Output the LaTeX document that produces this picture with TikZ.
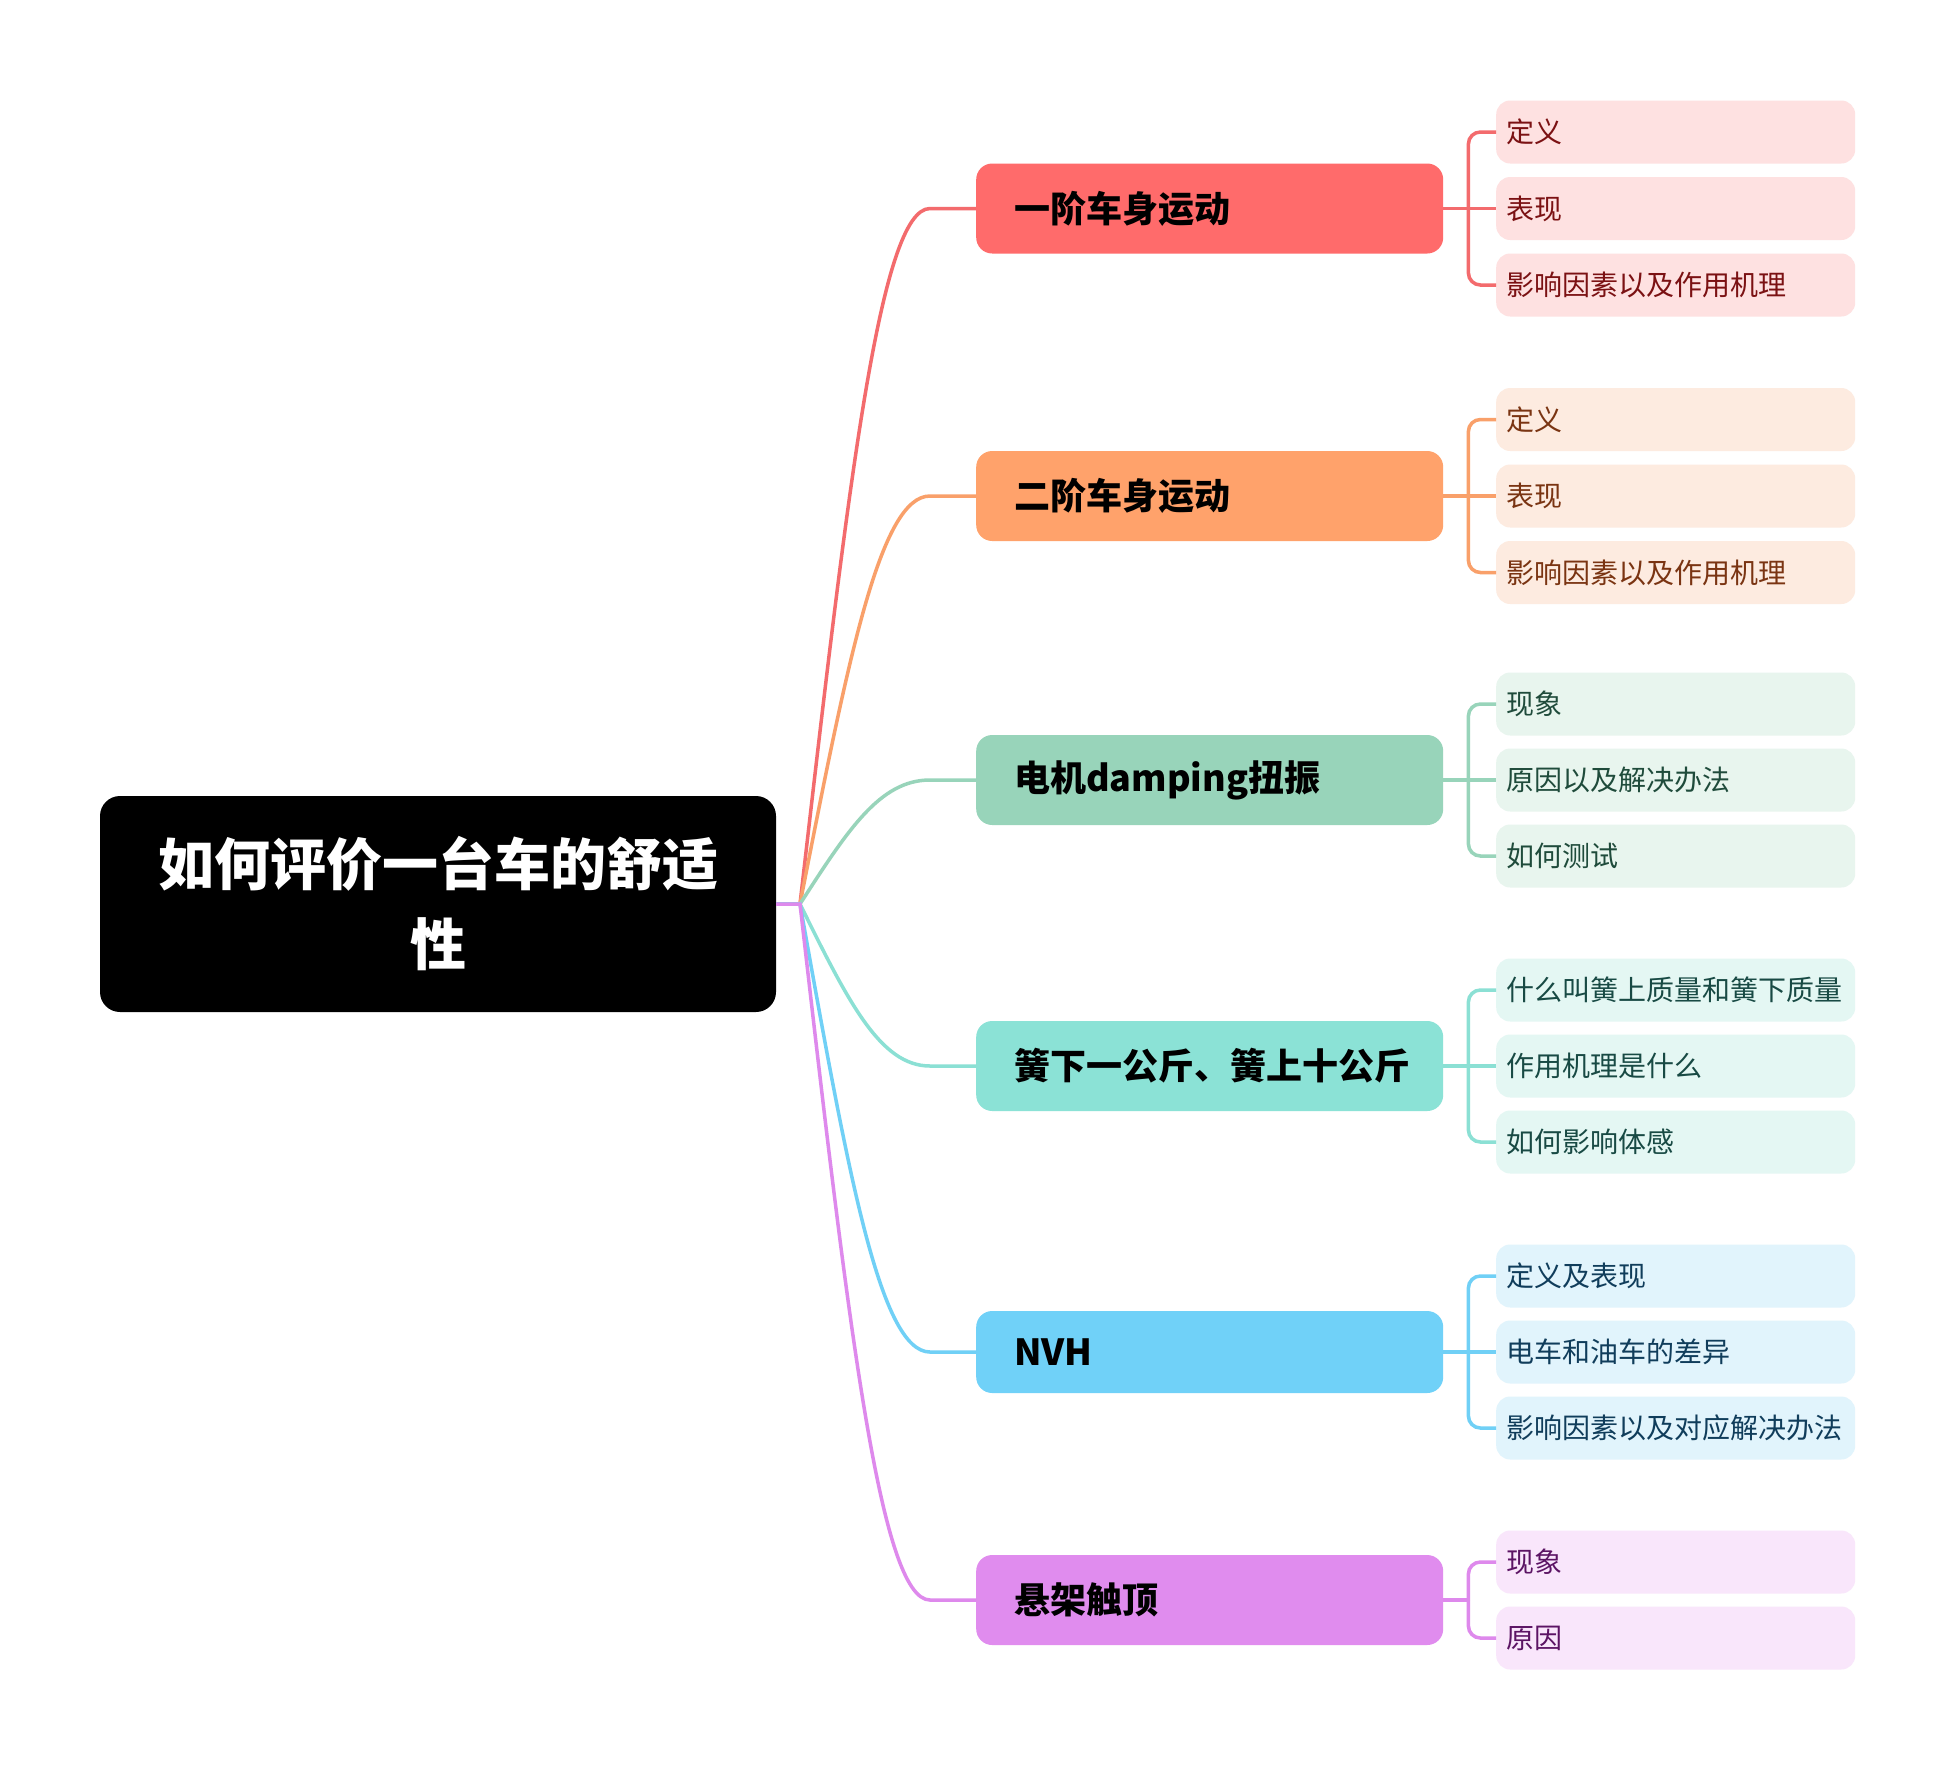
\documentclass[tikz,border=0pt]{standalone}
\usepackage{fontspec}
\setmainfont{Noto Sans CJK SC}
\usetikzlibrary{calc}
\definecolor{c1a}{HTML}{FF6B6B}\definecolor{c1b}{HTML}{FEE1E1}\definecolor{c1t}{HTML}{7B1113}\definecolor{c1l}{HTML}{F36B6D}
\definecolor{c2a}{HTML}{FFA26B}\definecolor{c2b}{HTML}{FDEBE0}\definecolor{c2t}{HTML}{7A3412}\definecolor{c2l}{HTML}{F9A06A}
\definecolor{c3a}{HTML}{98D4BA}\definecolor{c3b}{HTML}{E8F5EE}\definecolor{c3t}{HTML}{1F4B3B}\definecolor{c3l}{HTML}{98D4BA}
\definecolor{c4a}{HTML}{8BE2D6}\definecolor{c4b}{HTML}{E4F7F3}\definecolor{c4t}{HTML}{184A44}\definecolor{c4l}{HTML}{8BE0D4}
\definecolor{c5a}{HTML}{70D1F8}\definecolor{c5b}{HTML}{E1F4FC}\definecolor{c5t}{HTML}{103D5B}\definecolor{c5l}{HTML}{70D0F6}
\definecolor{c6a}{HTML}{E08CEE}\definecolor{c6b}{HTML}{F9E6FB}\definecolor{c6t}{HTML}{5C1464}\definecolor{c6l}{HTML}{DE89EC}
\begin{document}
\begin{tikzpicture}[x=1pt,y=-1pt,
  rootbox/.style={fill=black, rounded corners=20pt, minimum width=676pt, minimum height=216pt, text=white,
    font=\fontsize{56}{80}\selectfont\bfseries, align=center, inner sep=0pt},
  lone/.style={rounded corners=16pt, minimum height=90pt, text width=391pt, inner xsep=38pt, inner ysep=0pt,
    align=left, anchor=west, font=\fontsize{36}{40}\selectfont\bfseries, text=black},
  ltwo/.style={rounded corners=14pt, minimum height=63pt, text width=339pt, inner xsep=10pt, inner ysep=0pt,
    align=left, anchor=west, font=\fontsize{28}{32}\selectfont},
  conn/.style={line width=3.5pt},
  brk/.style={line width=3.5pt, rounded corners=12pt}]
\useasboundingbox[fill=white] (0,0) rectangle (1956,1770);

\node[rootbox] (r) at (438,904) {如何评价一台车的舒适\\性};
\coordinate (hub) at (800,904);

% level 1
\node[lone, fill=c1a] (a) at (976,208.5) {一阶车身运动};
\node[lone, fill=c2a] (b) at (976,496) {二阶车身运动};
\node[lone, fill=c3a] (c) at (976,780) {电机damping扭振};
\node[lone, fill=c4a] (d) at (976,1066) {簧下一公斤、簧上十公斤};
\node[lone, fill=c5a, minimum height=82pt] (e) at (976,1352) {NVH};
\node[lone, fill=c6a] (f) at (976,1600) {悬架触顶};

% level 2
\node[ltwo, fill=c1b, text=c1t] (a1) at (1496,132) {定义};
\node[ltwo, fill=c1b, text=c1t] (a2) at (1496,208.5) {表现};
\node[ltwo, fill=c1b, text=c1t] (a3) at (1496,285) {影响因素以及作用机理};
\node[ltwo, fill=c2b, text=c2t] (b1) at (1496,419.5) {定义};
\node[ltwo, fill=c2b, text=c2t] (b2) at (1496,496) {表现};
\node[ltwo, fill=c2b, text=c2t] (b3) at (1496,572.5) {影响因素以及作用机理};
\node[ltwo, fill=c3b, text=c3t] (c1) at (1496,704) {现象};
\node[ltwo, fill=c3b, text=c3t] (c2) at (1496,780) {原因以及解决办法};
\node[ltwo, fill=c3b, text=c3t] (c3) at (1496,856) {如何测试};
\node[ltwo, fill=c4b, text=c4t] (d1) at (1496,990) {什么叫簧上质量和簧下质量};
\node[ltwo, fill=c4b, text=c4t] (d2) at (1496,1066) {作用机理是什么};
\node[ltwo, fill=c4b, text=c4t] (d3) at (1496,1142) {如何影响体感};
\node[ltwo, fill=c5b, text=c5t] (e1) at (1496,1276) {定义及表现};
\node[ltwo, fill=c5b, text=c5t] (e2) at (1496,1352) {电车和油车的差异};
\node[ltwo, fill=c5b, text=c5t] (e3) at (1496,1428) {影响因素以及对应解决办法};
\node[ltwo, fill=c6b, text=c6t] (f1) at (1496,1562) {现象};
\node[ltwo, fill=c6b, text=c6t] (f2) at (1496,1638) {原因};

% root connectors
\foreach \n/\col in {a/c1l,b/c2l,c/c3l,d/c4l,e/c5l,f/c6l}{
  \coordinate (k\n) at ($(\n.west)+(-96,0)$);
  \draw[conn, draw=\col] (r.east) -- (hub) .. controls ($(hub)!0.6!(k\n)$) and (k\n) .. ($(\n.west)+(-46,0)$) -- (\n.west);
}

% brackets
\foreach \n/\col in {a/c1l,b/c2l,c/c3l,d/c4l,e/c5l}{
  \coordinate (j\n) at ($(\n.east)+(25,0)$);
  \draw[conn, draw=\col] (\n.east) -- (\n2.west);
  \draw[brk, draw=\col] (j\n) |- (\n1.west);
  \draw[brk, draw=\col] (j\n) |- (\n3.west);
}
\coordinate (jf) at ($(f.east)+(25,0)$);
\draw[conn, draw=c6l] (f.east) -- (jf);
\draw[brk, draw=c6l] (jf) |- (f1.west);
\draw[brk, draw=c6l] (jf) |- (f2.west);
\end{tikzpicture}
\end{document}
